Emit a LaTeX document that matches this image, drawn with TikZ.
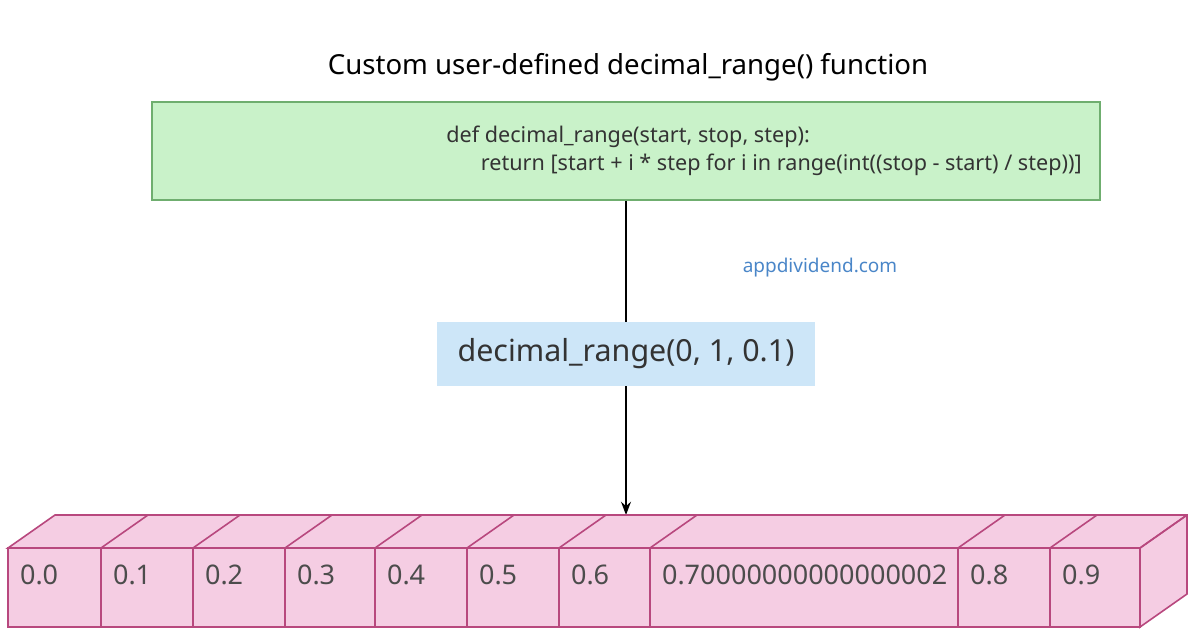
\documentclass[tikz,border=0pt]{standalone}
\usepackage{fontspec}
\setmainfont{Noto Sans}
\usetikzlibrary{arrows.meta,positioning}
\definecolor{cellfill}{HTML}{F5CDE3}
\definecolor{celldraw}{HTML}{B8487E}
\definecolor{codefill}{HTML}{C9F2C9}
\definecolor{codedraw}{HTML}{6FAE6F}
\definecolor{callfill}{HTML}{CDE6F8}
\definecolor{webblue}{HTML}{4A86C8}
\tikzset{
    cell/.style = {draw=celldraw, fill=cellfill, line width=0.8pt},
    celltext/.style = {anchor=west, font=\fontsize{13.5}{15}\selectfont, text=black!70},
}
\begin{document}
\begin{tikzpicture}[x=0.5pt, y=-0.5pt, >=Stealth]
    \useasboundingbox (0,0) rectangle (1196,628);

    % title and code box
    \node (title) at (628,67) {\fontsize{13.8}{16}\selectfont Custom user-defined decimal\_range() function};
    \node[draw=codedraw, fill=codefill, minimum width=474pt, minimum height=49pt, line width=0.8pt] (code) at (626,151) {};
    \node[align=left, font=\fontsize{10.8}{14}\selectfont, text=black!80] (codetxt) at (764,151)
        {def decimal\_range(start, stop, step):\\
         \hspace*{1.6em}return [start + i * step for i in range(int((stop - start) / step))]};
    \node[text=webblue, font=\fontsize{9.5}{11}\selectfont] (site) at (820,268) {appdividend.com};

    % call box
    \node[fill=callfill, minimum width=189pt, minimum height=32pt, font=\fontsize{15.2}{17}\selectfont, text=black!80] (call) at (626,354) {decimal\_range(0, 1, 0.1)};
    \coordinate (target) at (626,515);
    \draw[thick] (code.south) -- (call.north);
    \draw[thick,->] (call.south) -- (target);

    % array of results
    \def\dx{47}\def\dy{-33}
    \draw[cell] (8,548) -- ++(\dx,\dy) -- (1140+\dx,515) -- (1140+\dx,627+\dy) -- (1140,627) -- (1140,548) -- cycle;
    \draw[cell] (1140,548) -- ++(\dx,\dy);
    \foreach \xa/\xb/\val in {8/101/0.0, 101/193/0.1, 193/285/0.2, 285/375/0.3, 375/467/0.4,
        467/559/0.5, 559/650/0.6, 650/958/0.70000000000000002, 958/1050/0.8, 1050/1140/0.9} {
        \draw[cell] (\xa,548) rectangle (\xb,627);
        \draw[cell] (\xb,548) -- ++(\dx,\dy);
        \node[celltext] (v\xa) at (\xa+5,575) {\val};
    }
\end{tikzpicture}
\end{document}
